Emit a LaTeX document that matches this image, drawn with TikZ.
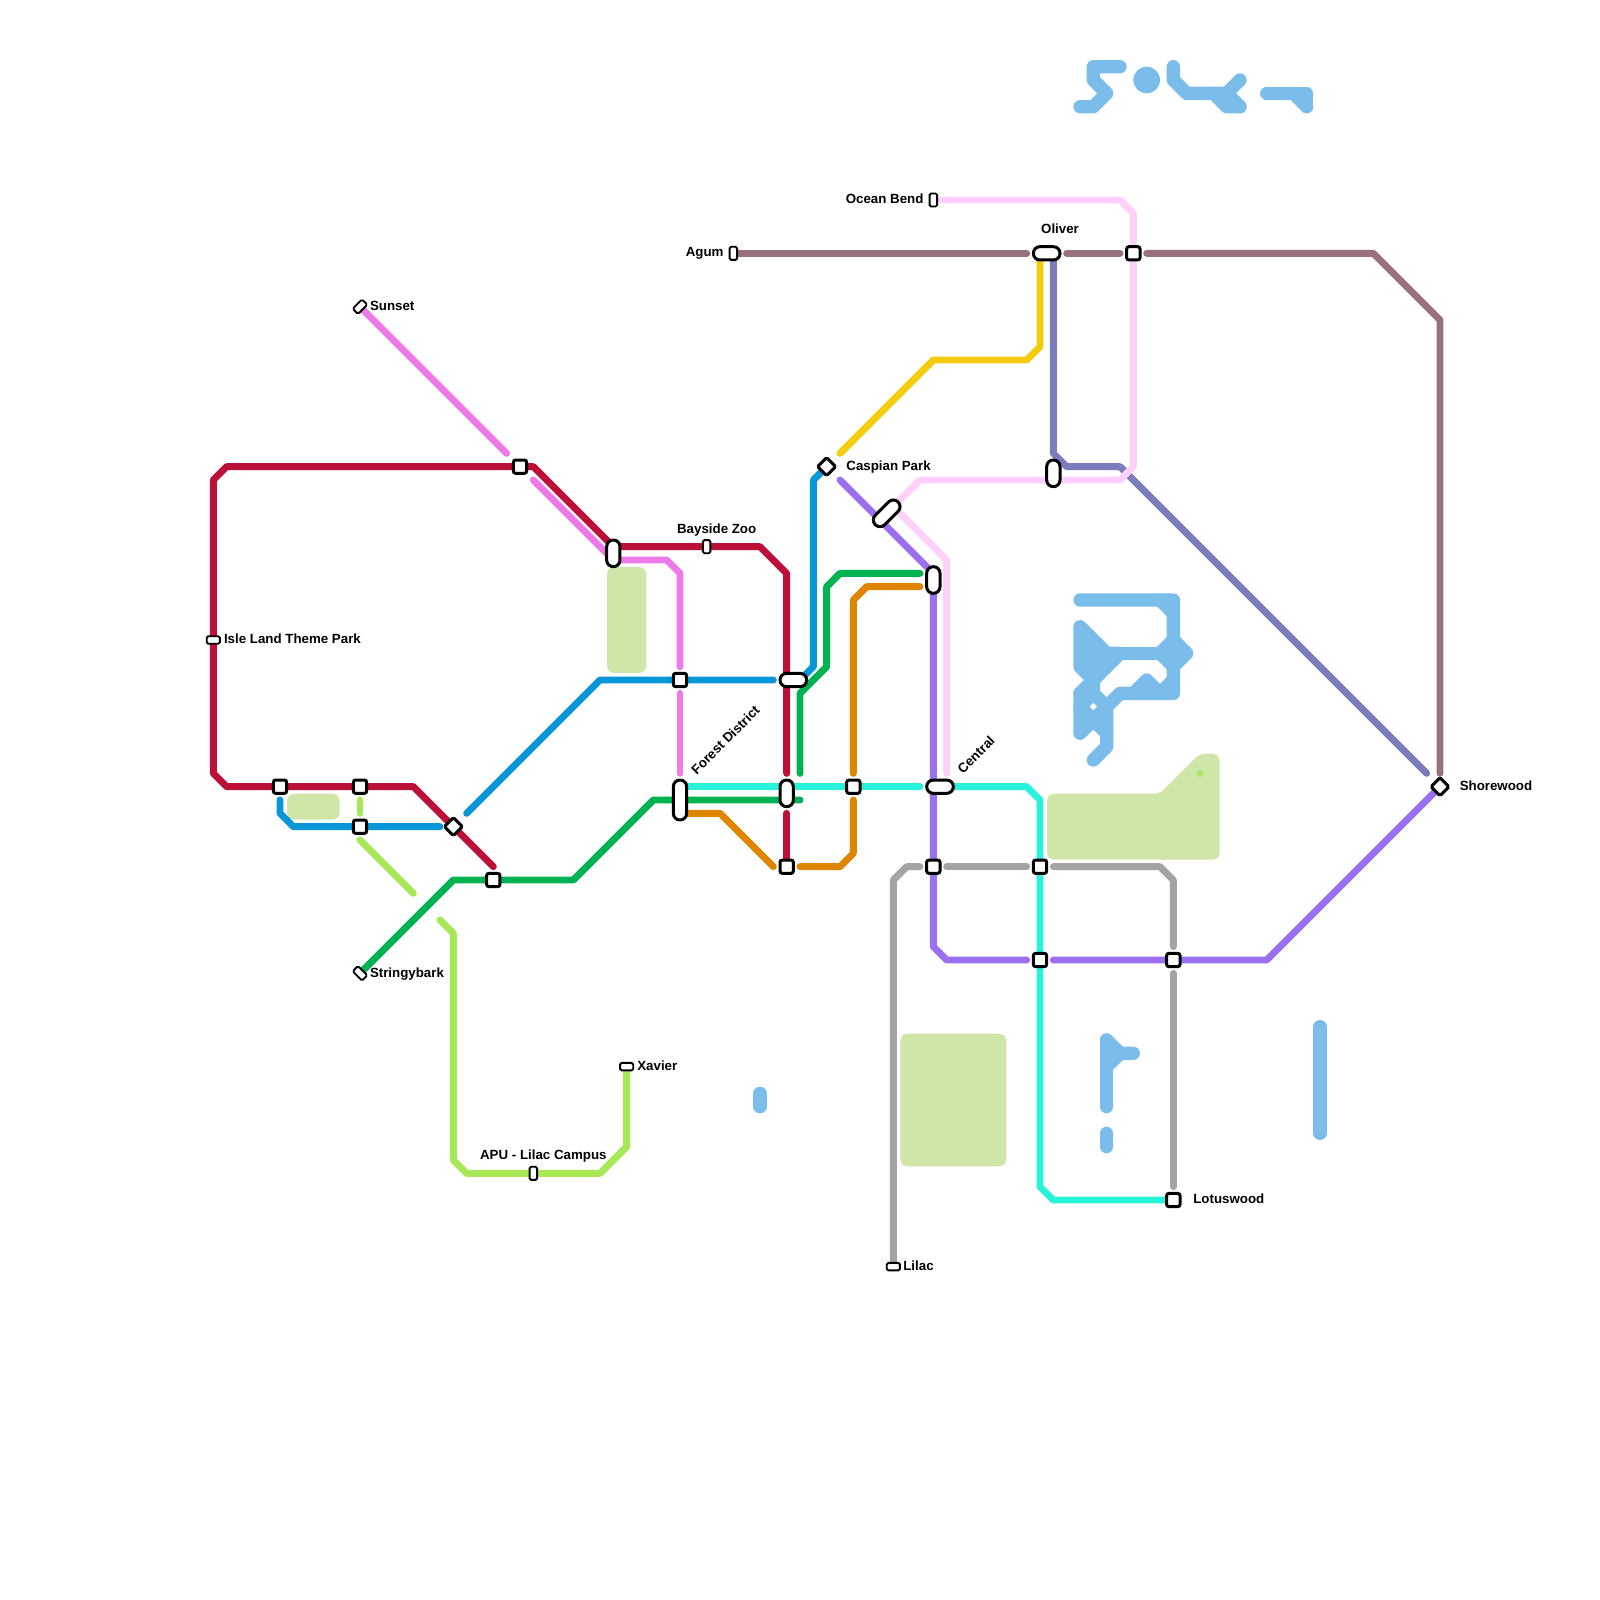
\documentclass[tikz,border=0pt]{standalone}
\usepackage{fontspec}
\usetikzlibrary{backgrounds}
\setmainfont{Liberation Sans}
\definecolor{cRed}{HTML}{BD1038}
\definecolor{cPink}{HTML}{EE7AE9}
\definecolor{cBlue}{HTML}{0896D8}
\definecolor{cGreen}{HTML}{00B251}
\definecolor{cOrange}{HTML}{DF8600}
\definecolor{cTurq}{HTML}{28F2DA}
\definecolor{cPurple}{HTML}{9B6FEE}
\definecolor{cSlate}{HTML}{7B7CBB}
\definecolor{cMauve}{HTML}{98707E}
\definecolor{cYellow}{HTML}{F3CC0C}
\definecolor{cLight}{HTML}{FFD0FA}
\definecolor{cGray}{HTML}{A4A4A4}
\definecolor{cLime}{HTML}{A6E855}
\definecolor{cPark}{HTML}{D0E5A8}
\definecolor{cWater}{HTML}{7ABDEA}
\tikzset{
  route/.style={draw=#1,line width=3.7pt,line cap=round,line join=round},
  park/.style={fill=cPark,draw=cPark,line width=1pt,rounded corners=3pt},
  water/.style={draw=cWater,line width=7.11pt,line cap=round,line join=round},
  sq/.style={draw=black,fill=white,line width=1.6pt,outer sep=0pt,rectangle,rounded corners=1.2pt,minimum width=7.1pt,minimum height=7.1pt,inner sep=0pt},
  dia/.style={draw=black,fill=white,line width=1.6pt,outer sep=0pt,rectangle,rounded corners=.8pt,minimum width=6.8pt,minimum height=6.8pt,inner sep=0pt,rotate=45},
  pill/.style={draw=black,fill=white,line width=1.6pt,outer sep=0pt,rectangle,rounded corners=3.5pt,minimum height=7.1pt,minimum width=7.1pt+#1*7.113pt,inner sep=0pt},
  tiny/.style={draw=black,fill=white,line width=1pt,outer sep=0pt,rectangle,rounded corners=.8pt,minimum width=7pt,minimum height=4pt,inner sep=0pt},
  lab/.style={font=\fontsize{7.1}{8.5}\selectfont\bfseries,inner sep=0pt,outer sep=0pt,text height=5.1pt,text depth=0pt,text=black},
}
\begin{document}
\begin{tikzpicture}[x=0.25cm,y=-0.25cm]
\useasboundingbox (0,0) rectangle (120,120);
% stations
\node[sq] (sA) at (21,59) {};
\node[sq] (sB) at (27,59) {};
\node[sq] (sC) at (27,62) {};
\node[sq] (sD) at (37,66) {};
\node[sq] (sE) at (39,35) {};
\node[sq] (sF) at (51,51) {};
\node[sq] (sG) at (59,65) {};
\node[sq] (sH) at (64,59) {};
\node[sq] (sI) at (70,65) {};
\node[sq] (sJ) at (78,65) {};
\node[sq] (sK) at (78,72) {};
\node[sq] (sL) at (88,72) {};
\node[sq] (sLotus) at (88,90) {};
\node[sq] (sM) at (85,19) {};
\node[dia] (dA) at (34,62) {};
\node[dia] (dB) at (62,35) {};
\node[dia] (dC) at (108,59) {};
\node[tiny,rotate=45] (nSunset) at (27,23) {};
\node[tiny] (nIsle) at (16,48) {};
\node[tiny,rotate=-45] (nString) at (27,73) {};
\node[tiny] (nXavier) at (47,80) {};
\node[tiny,rotate=90] (nApu) at (40,88) {};
\node[tiny,rotate=90] (nBay) at (53,41) {};
\node[tiny] (nLilac) at (67,95) {};
\node[tiny,rotate=90] (nAgum) at (55,19) {};
\node[tiny,rotate=90] (nOcean) at (70,15) {};
\node[pill=1,rotate=90] (pRed) at (46,41.5) {};
\node[pill=1] (pBlue) at (59.5,51) {};
\node[pill=2,rotate=90] (pForest) at (51,60) {};
\node[pill=1,rotate=90] (pMid) at (59,59.5) {};
\node[pill=1.414,rotate=45] (pDiag) at (66.5,38.5) {};
\node[pill=1,rotate=90] (pUp) at (70,43.5) {};
\node[pill=1] (pCentral) at (70.5,59) {};
\node[pill=1] (pOliver) at (78.5,19) {};
\node[pill=1,rotate=90] (pSlate) at (79,35.5) {};
% free ends of the routes
\coordinate (rA) at (37,65); \coordinate (rB) at (59,58); \coordinate (rC) at (59,61);
\coordinate (pA) at (38,34); \coordinate (pB) at (40,36); \coordinate (pC) at (51,50); \coordinate (pD) at (51,52); \coordinate (pE) at (51,58);
\coordinate (bA) at (21,60); \coordinate (bB) at (33,62); \coordinate (bC) at (35,61); \coordinate (bD) at (58,51); \coordinate (bE) at (60,51);
\coordinate (gA) at (60,60); \coordinate (gB) at (60,58); \coordinate (gC) at (69,43);
\coordinate (oA) at (51,61); \coordinate (oB) at (58,65); \coordinate (oC) at (60,65); \coordinate (oD) at (64,60); \coordinate (oE) at (64,58); \coordinate (oF) at (69,44);
\coordinate (tA) at (51,59); \coordinate (tB) at (69,59); \coordinate (tC) at (71,59);
\coordinate (uA) at (63,36); \coordinate (uB) at (70,43); \coordinate (uC) at (77,72); \coordinate (uD) at (79,72);
\coordinate (vA) at (79,19); \coordinate (vB) at (107,58);
\coordinate (mA) at (77,19); \coordinate (mB) at (80,19); \coordinate (mC) at (84,19); \coordinate (mD) at (86,19); \coordinate (mE) at (108,58);
\coordinate (yA) at (63,34); \coordinate (yB) at (78,19);
\coordinate (lA) at (67,38); \coordinate (lB) at (71,58);
\coordinate (hA) at (69,65); \coordinate (hB) at (71,65); \coordinate (hC) at (77,65); \coordinate (hD) at (79,65); \coordinate (hE) at (88,71); \coordinate (hF) at (88,73); \coordinate (hG) at (88,89);
\coordinate (kA) at (27,60); \coordinate (kB) at (27,61); \coordinate (kC) at (27,63); \coordinate (kD) at (31,67); \coordinate (kE) at (33,69);
\begin{scope}[on background layer]
\fill[white] (0,0) rectangle (120,120);
% parks
\filldraw[park] (21.6,59.6) rectangle (25.4,61.4);
\filldraw[park] (45.6,42.6) rectangle (48.4,50.4);
\filldraw[park] (67.6,77.6) rectangle (75.4,87.4);
\filldraw[park] (78.6,59.6) -- (87,59.6) -- (90,56.6) -- (91.4,56.6) -- (91.4,64.4) -- (78.6,64.4) -- cycle;
\fill[cLime] (90,57.72) -- (90.28,58) -- (90,58.28) -- (89.72,58) -- cycle;
% water
\draw[water] (84,5) -- (82,5) -- (82,6) -- (83,7) -- (82,8) -- (81,8);
\fill[cWater] (86,6) circle (1);
\draw[water] (88,5) -- (88,6) -- (89,7) -- (92,7) -- (93,6);
\draw[water] (91,7) -- (92,8) -- (93,8);
\draw[water] (92,7) -- (93,8);
\draw[water] (95,7) -- (98,7) -- (98,8);
\draw[water] (97,7) -- (98,8);
\draw[water] (81,45) -- (88,45) -- (88,52) -- (84,52) -- (83,53) -- (83,56) -- (82,57);
\draw[water] (87,45) -- (88,46);
\draw[water] (88,48) -- (87,49) -- (88,50) -- (89,49) -- cycle;
\filldraw[water,fill=cWater] (81,47) -- (83,49) -- (84,49) -- (82,51) -- (81,50) -- cycle;
\draw[water] (83,49) -- (88,49);
\draw[water] (81,52) -- (82,51) -- (82,52) -- (83,53) -- (82,54) -- (81,53) -- (82,52);
\draw[water] (81,52) -- (81,55) -- (82,54) -- (83,55);
\draw[water] (85,52) -- (86,51) -- (87,52) -- (88,51);
\draw[water] (57,82) -- (57,83);
\draw[water] (83,85) -- (83,86);
\draw[water] (83,78) -- (83,83);
\draw[water] (83,78) -- (84,79) -- (85,79);
\draw[water] (84,79) -- (83,80);
\draw[water] (99,77) -- (99,85);
% routes
\draw[route=cMauve] (nAgum.center) -- (mA);
\draw[route=cMauve] (mB) -- (mC);
\draw[route=cMauve] (mD) -- (103,19) -- (108,24) -- (mE);
\draw[route=cYellow] (yA) -- (70,27) -- (77,27) -- (78,26) -- (yB);
\draw[route=cSlate] (vA) -- (79,34) -- (80,35) -- (84,35) -- (vB);
\draw[route=cLight] (nOcean.center) -- (84,15) -- (85,16) -- (85,35) -- (84,36) -- (69,36) -- (lA);
\draw[route=cLight] (lA) -- (71,42) -- (lB);
\draw[route=cPink] (nSunset.center) -- (pA);
\draw[route=cPink] (pB) -- (46,42) -- (50,42) -- (51,43) -- (pC);
\draw[route=cPink] (pD) -- (pE);
\draw[route=cBlue] (bA) -- (21,61) -- (22,62) -- (bB);
\draw[route=cBlue] (bC) -- (45,51) -- (bD);
\draw[route=cBlue] (bE) -- (61,50) -- (61,36) -- (dB.center);
\draw[route=cTurq] (tA) -- (tB);
\draw[route=cTurq] (tC) -- (77,59) -- (78,60) -- (78,89) -- (79,90) -- (sLotus.center);
\draw[route=cRed] (rA) -- (31,59) -- (17,59) -- (16,58) -- (16,36) -- (17,35) -- (40,35) -- (46,41) -- (57,41) -- (59,43) -- (rB);
\draw[route=cRed] (rC) -- (sG.center);
\draw[route=cGreen] (nString.center) -- (34,66) -- (43,66) -- (49,60) -- (gA);
\draw[route=cGreen] (gB) -- (60,52) -- (62,50) -- (62,44) -- (63,43) -- (gC);
\draw[route=cOrange] (oA) -- (54,61) -- (oB);
\draw[route=cOrange] (oC) -- (63,65) -- (64,64) -- (oD);
\draw[route=cOrange] (oE) -- (64,45) -- (65,44) -- (oF);
\draw[route=cPurple] (uA) -- (uB) -- (70,71) -- (71,72) -- (uC);
\draw[route=cPurple] (uD) -- (95,72) -- (dC.center);
\draw[route=cGray] (nLilac.center) -- (67,66) -- (68,65) -- (hA);
\draw[route=cGray] (hB) -- (hC);
\draw[route=cGray] (hD) -- (87,65) -- (88,66) -- (hE);
\draw[route=cGray] (hF) -- (hG);
\draw[route=cLime] (kA) -- (kB);
\draw[route=cLime] (kC) -- (kD);
\draw[route=cLime] (kE) -- (34,70) -- (34,87) -- (35,88) -- (45,88) -- (47,86) -- (nXavier.center);
\end{scope}
% labels
\node[lab,anchor=west] (lSunset) at (27.75,22.96) {Sunset};
\node[lab,anchor=west] (lIsle) at (16.8,47.9) {Isle Land Theme Park};
\node[lab,anchor=west] (lString) at (27.75,72.93) {Stringybark};
\node[lab,anchor=west] (lXavier) at (47.8,79.9) {Xavier};
\node[lab] (lApu) at (40.75,86.6) {APU - Lilac Campus};
\node[lab] (lBay) at (53.75,39.65) {Bayside Zoo};
\node[lab,rotate=45] (lForest) at (54.4,55.5) {Forest District};
\node[lab,anchor=west] (lCaspian) at (63.48,34.9) {Caspian Park};
\node[lab,rotate=45] (lCentral) at (73.2,56.6) {Central};
\node[lab,anchor=east] (lOcean) at (69.26,14.92) {Ocean Bend};
\node[lab,anchor=east] (lAgum) at (54.26,18.9) {Agum};
\node[lab] (lOliver) at (79.5,17.14) {Oliver};
\node[lab,anchor=west] (lShore) at (109.48,58.93) {Shorewood};
\node[lab,anchor=west] (lLotus) at (89.5,89.9) {Lotuswood};
\node[lab,anchor=west] (lLilac) at (67.75,94.9) {Lilac};
\end{tikzpicture}
\end{document}
